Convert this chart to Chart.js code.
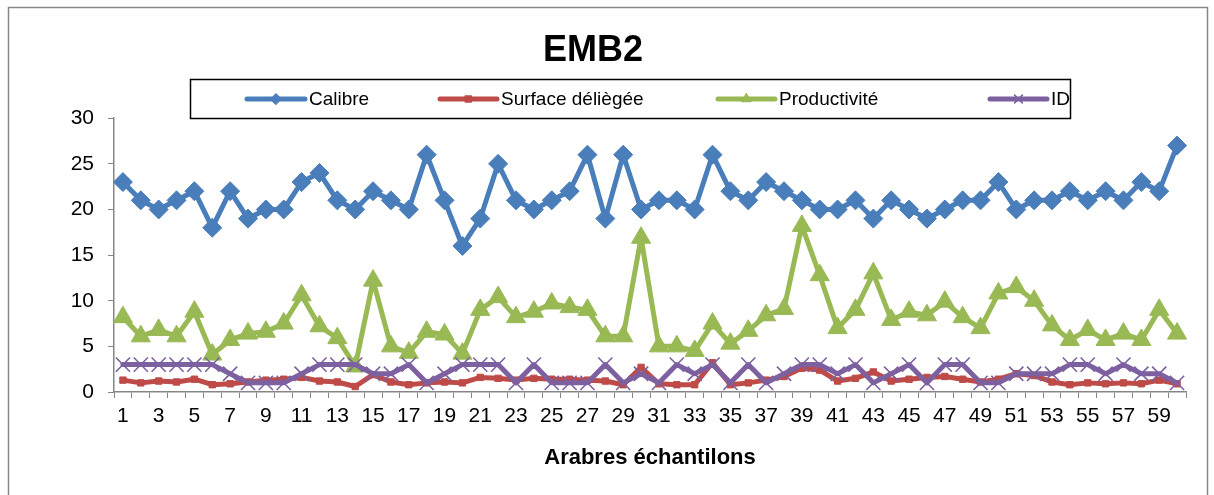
<!DOCTYPE html>
<html>
<head>
<meta charset="utf-8">
<script src="https://cdn.jsdelivr.net/npm/chart.js@4/dist/chart.umd.min.js"></script>
<style>
  body { margin: 0; background: #fff; }
  #wrap { position: relative; width: 1214px; height: 495px; }
</style>
</head>
<body>
<div id="wrap"><canvas id="myChart" width="1214" height="495"></canvas></div>
<script>
// categories 1..60
const categories = [];
for (let i = 1; i <= 60; i++) categories.push(String(i));

// series values
const calibre = [23, 21, 20, 21, 22, 18, 22, 19, 20, 20, 23, 24, 21, 20, 22, 21, 20, 26, 21, 16,
                 19, 25, 21, 20, 21, 22, 26, 19, 26, 20, 21, 21, 20, 26, 22, 21, 23, 22, 21, 20,
                 20, 21, 19, 21, 20, 19, 20, 21, 21, 23, 20, 21, 21, 22, 21, 22, 21, 23, 22, 27];
const surface = [1.3, 1.0, 1.2, 1.1, 1.4, 0.8, 0.9, 1.1, 1.3, 1.4, 1.6, 1.2, 1.1, 0.6, 1.9, 1.1, 0.8, 1.0, 1.1, 1.0,
                 1.6, 1.5, 1.3, 1.5, 1.4, 1.4, 1.3, 1.2, 0.8, 2.7, 0.9, 0.8, 0.8, 3.2, 0.8, 1.0, 1.3, 1.7, 2.6, 2.4,
                 1.2, 1.5, 2.2, 1.2, 1.4, 1.6, 1.7, 1.4, 1.1, 1.4, 2.0, 1.8, 1.1, 0.8, 1.0, 0.9, 1.0, 0.9, 1.3, 0.9];
const productivite = [8.2, 6.1, 6.8, 6.1, 8.8, 4.1, 5.7, 6.4, 6.6, 7.5, 10.6, 7.2, 5.9, 2.8, 12.2, 5.0, 4.3, 6.6, 6.3, 4.2,
                      9.0, 10.4, 8.2, 8.8, 9.7, 9.3, 9.0, 6.1, 6.1, 16.9, 5.0, 5.0, 4.5, 7.5, 5.3, 6.7, 8.4, 9.1, 18.2, 12.8,
                      7.0, 9.0, 13.0, 7.9, 8.8, 8.4, 9.9, 8.2, 7.0, 10.8, 11.5, 10.0, 7.3, 5.7, 6.8, 5.7, 6.4, 5.7, 9.0, 6.4];
const idValues = [3, 3, 3, 3, 3, 3, 2, 1, 1, 1, 2, 3, 3, 3, 2, 2, 3, 1, 2, 3,
                  3, 3, 1, 3, 1, 1, 1, 3, 1, 2, 1, 3, 2, 3, 1, 3, 1, 2, 3, 3,
                  2, 3, 1, 2, 3, 1, 3, 3, 1, 1, 2, 2, 2, 3, 3, 2, 3, 2, 2, 1];

const yTicks = [0, 5, 10, 15, 20, 25, 30];
const seriesNames = ['Calibre', 'Surface déliègée', 'Productivité', 'ID'];

const FONT = 'Arial, "Liberation Sans", sans-serif';
const AXIS_GRAY = '#868686';

function lineSet(label, data, color, style, radius, order) {
    return {
        label: label,
        data: data,
        borderColor: color,
        backgroundColor: color,
        borderWidth: 5,
        borderJoinStyle: 'round',
        borderCapStyle: 'round',
        tension: 0,
        pointStyle: style,
        pointRadius: radius,
        pointHoverRadius: radius,
        pointBackgroundColor: color,
        pointBorderColor: color,
        pointBorderWidth: style === 'crossRot' ? 1.6 : 1,
        order: order
    };
}

const datasets = [
    lineSet(seriesNames[0], calibre, '#4A7EBB', 'rectRot', 9.5, 4),
    lineSet(seriesNames[1], surface, '#BE4B48', 'rect', 4.5, 3),
    lineSet(seriesNames[2], productivite, '#98B954', 'triangle', 11, 2),
    lineSet(seriesNames[3], idValues, '#7D60A0', 'crossRot', 10, 1)
];

// legend item positions (line start, line end) in the boxed legend
const legendSlots = [[247, 305], [440, 497], [718, 775], [990, 1047]];

const framePlugin = {
    id: 'frame',
    beforeDraw(chart) {
        const ctx = chart.ctx;
        ctx.save();
        ctx.fillStyle = '#fff';
        ctx.fillRect(0, 0, chart.width, chart.height);
        ctx.strokeStyle = AXIS_GRAY;
        ctx.lineWidth = 1.5;
        ctx.strokeRect(8.5, 7.5, 1199, 600);
        ctx.restore();
    },
    afterDraw(chart) {
        const ctx = chart.ctx;
        ctx.save();
        // legend box
        ctx.strokeStyle = '#000';
        ctx.lineWidth = 1.5;
        ctx.strokeRect(190.5, 79.5, 880, 39);
        const y = 99;
        chart.data.datasets.forEach(function (ds, i) {
            const [x1, x2] = legendSlots[i];
            ctx.strokeStyle = ds.borderColor;
            ctx.lineWidth = 5;
            ctx.lineCap = 'round';
            ctx.beginPath();
            ctx.moveTo(x1, y);
            ctx.lineTo(x2, y);
            ctx.stroke();
            if (Chart.helpers && Chart.helpers.drawPoint) {
                ctx.fillStyle = ds.borderColor;
                ctx.strokeStyle = ds.borderColor;
                ctx.lineWidth = ds.pointBorderWidth;
                Chart.helpers.drawPoint(ctx, {
                    pointStyle: ds.pointStyle,
                    radius: Math.min(ds.pointRadius, 5.5),
                    rotation: 0,
                    borderWidth: ds.pointBorderWidth
                }, (x1 + x2) / 2, y);
            }
            ctx.fillStyle = '#000';
            ctx.font = '19px ' + FONT;
            ctx.textBaseline = 'middle';
            ctx.textAlign = 'left';
            ctx.fillText(ds.label, x2 + 4, y + 1);
        });
        ctx.restore();
    }
};

const config = {
    type: 'line',
    data: { labels: categories, datasets: datasets },
    options: {
        responsive: false,
        devicePixelRatio: 1,
        animation: false,
        layout: { padding: { top: 0, left: 0, right: 28, bottom: 0 } },
        plugins: {
            legend: { display: false },
            tooltip: { enabled: false },
            title: {
                display: true,
                text: 'EMB2',
                color: '#000',
                font: { family: FONT, size: 36, weight: 'bold' },
                padding: { top: 29, bottom: 46 }
            }
        },
        scales: {
            x: {
                type: 'category',
                offset: true,
                grid: {
                    display: true,
                    drawOnChartArea: false,
                    drawTicks: true,
                    tickLength: 6,
                    color: AXIS_GRAY,
                    offset: true
                },
                border: { color: AXIS_GRAY, width: 1.5 },
                ticks: {
                    autoSkip: false,
                    maxRotation: 0,
                    minRotation: 0,
                    padding: 6,
                    color: '#000',
                    font: { family: FONT, size: 21 },
                    callback: function (v, i) { return i % 2 === 0 ? categories[i] : ''; }
                },
                title: {
                    display: true,
                    text: 'Arabres échantilons',
                    color: '#000',
                    font: { family: FONT, size: 22, weight: 'bold' },
                    padding: { top: 0, bottom: 24 }
                },
                afterFit: function (scale) { scale.height = 103; }
            },
            y: {
                min: 0,
                max: 30,
                afterBuildTicks: function (scale) {
                    scale.ticks = yTicks.map(function (v) { return { value: v }; });
                },
                grid: {
                    display: true,
                    drawOnChartArea: false,
                    drawTicks: true,
                    tickLength: 6,
                    color: AXIS_GRAY
                },
                border: { color: AXIS_GRAY, width: 1.5 },
                ticks: {
                    padding: 14,
                    color: '#000',
                    font: { family: FONT, size: 21 }
                },
                afterFit: function (scale) { scale.width = 114; }
            }
        }
    },
    plugins: [framePlugin]
};

const myChart = new Chart(document.getElementById('myChart'), config);
</script>
</body>
</html>
